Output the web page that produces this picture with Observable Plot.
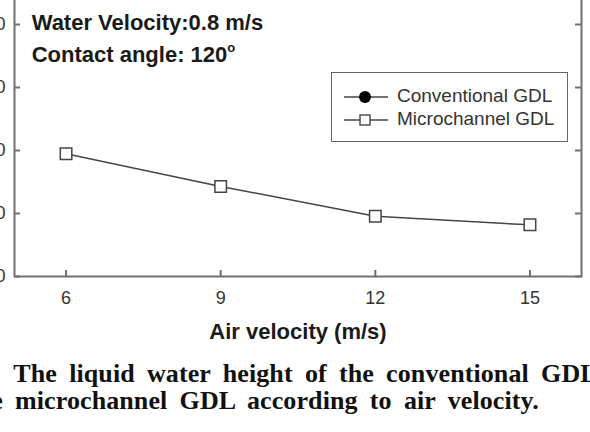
<!DOCTYPE html>
<html>
<head>
<meta charset="utf-8">
<script src="https://cdn.jsdelivr.net/npm/d3@7"></script>
<script src="https://cdn.jsdelivr.net/npm/@observablehq/plot@0.6"></script>
<style>
  html, body { margin: 0; padding: 0; background: #fff; }
  #page { position: relative; width: 590px; height: 432px; overflow: hidden; background: #fff; }
  #chart { position: absolute; left: -60px; top: -60px; width: 661px; height: 416px; }
  #chart svg { max-width: none !important; }
  .note { position: absolute; left: 31.7px; font: bold 22px "Liberation Sans", Arial, sans-serif; color: #1a1a1a; white-space: nowrap; line-height: 22px; }
  .note sup { font-size: 13px; position: relative; top: -2px; }
  #legend { position: absolute; left: 331px; top: 72px; width: 237px; height: 70px; border: 1.6px solid #666; background: #fff; box-sizing: border-box; }
  .lg { position: absolute; left: 0; height: 20px; font: 19px "Liberation Sans", Arial, sans-serif; color: #333; white-space: nowrap; }
  .lg svg { position: absolute; left: 11px; top: 0; }
  .lg span { position: absolute; left: 65px; top: -1px; line-height: 22px; }
  .cap { position: absolute; font: bold 26px "Liberation Serif", "Times New Roman", serif; color: #111; white-space: nowrap; line-height: 26px; word-spacing: 5.6px; letter-spacing: 0.1px; }
</style>
</head>
<body>
<div id="page">
  <div id="chart"></div>
  <div class="note" style="top:12px">Water Velocity:0.8 m/s</div>
  <div class="note" style="top:39px">Contact angle: 120<sup>o</sup></div>
  <div id="legend">
    <div class="lg" style="top:13px">
      <svg width="46" height="22"><line x1="1" y1="11" x2="45" y2="11" stroke="#444" stroke-width="1.5"/><circle cx="22" cy="11" r="6" fill="#000"/></svg>
      <span>Conventional GDL</span>
    </div>
    <div class="lg" style="top:36px">
      <svg width="46" height="22"><line x1="1" y1="11" x2="45" y2="11" stroke="#444" stroke-width="1.5"/><rect x="17" y="6" width="10" height="10" fill="#fff" stroke="#444" stroke-width="1.4"/></svg>
      <span>Microchannel GDL</span>
    </div>
  </div>
  <div class="cap" id="cap1" style="left:13.3px; top:361px">The liquid water height of the conventional GDL</div>
  <div class="cap" id="cap2" style="left:-29.6px; top:388px"><span id="capLead">the </span>microchannel GDL according to air velocity.</div>
</div>
<script>
// Data
const airVelocity = [6, 9, 12, 15];
const microchannelHeight = [39.0, 28.6, 19.1, 16.4];
const xTickValues = [6, 9, 12, 15];
const yTickValues = [0, 20, 40, 60, 80, 100];
const xLabel = "Air velocity (m/s)";

const data = airVelocity.map((v, i) => ({x: v, y: microchannelHeight[i]}));

const W = 661, H = 416, mL = 74, mR = 20, mT = 21, mB = 80;
const innerW = W - mL - mR, innerH = H - mT - mB;
const frameColor = "#707070";

const chart = Plot.plot({
  width: W,
  height: H,
  marginLeft: mL,
  marginRight: mR,
  marginTop: mT,
  marginBottom: mB,
  style: {fontFamily: "'Liberation Sans', Arial, sans-serif", fontSize: "18px", color: "#333", background: "#fff", overflow: "visible", maxWidth: "none"},
  x: {domain: [5, 16]},
  y: {domain: [0, 100]},
  marks: [
    Plot.frame({stroke: frameColor, strokeWidth: 2}),
    Plot.tickY(yTickValues, {y: d => d, stroke: frameColor, strokeWidth: 2, insetRight: innerW - 6}),
    Plot.tickY(yTickValues, {y: d => d, stroke: frameColor, strokeWidth: 2, insetLeft: innerW - 6}),
    Plot.tickX(xTickValues, {x: d => d, stroke: frameColor, strokeWidth: 2, insetTop: innerH - 6}),
    Plot.axisX({ticks: xTickValues, tickSize: 0, tickPadding: 15, label: null, fill: "#333"}),
    Plot.axisY({ticks: yTickValues, tickSize: 0, tickPadding: 9, label: null, fill: "#333"}),
    Plot.text([xLabel], {text: d => d, frameAnchor: "bottom", dy: 62, lineAnchor: "bottom", fontWeight: "bold", fontSize: 22, fill: "#1a1a1a"}),
    Plot.line(data, {x: "x", y: "y", stroke: "#444", strokeWidth: 1.5}),
    Plot.dot(data, {x: "x", y: "y", symbol: "square", r: 6.5, stroke: "#444", strokeWidth: 1.5, fill: "#fff"})
  ]
});
document.getElementById("chart").appendChild(chart);

// place the second caption line so that "microchannel" begins where the reference shows it
const lead = document.getElementById("capLead").getBoundingClientRect().width;
document.getElementById("cap2").style.left = (15 - lead) + "px";
</script>
</body>
</html>
